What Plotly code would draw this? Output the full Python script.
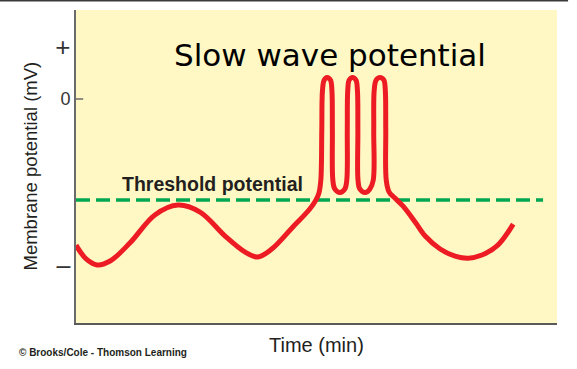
import plotly.graph_objects as go

# ---- data (time in min, membrane potential in mV, arbitrary scale) ----
time_min = [0.00, 0.21, 0.44, 0.71, 1.12, 1.64, 2.12, 2.58, 3.10, 3.51,
            3.78, 4.07, 4.49, 4.86, 4.99, 5.05, 5.09, 5.11, 5.125, 5.16,
            5.22, 5.29, 5.32, 5.33, 5.34, 5.38, 5.49, 5.59, 5.63, 5.64,
            5.65, 5.68, 5.75, 5.82, 5.85, 5.86, 5.863, 5.90, 6.01, 6.11,
            6.18, 6.19, 6.20, 6.24, 6.32, 6.40, 6.43, 6.44, 6.45, 6.51,
            6.63, 6.80, 7.05, 7.26, 7.57, 7.88, 8.15, 8.44, 8.77, 9.09]
potential_mv = [-56.2, -61.5, -63.8, -62.3, -55.4, -44.6, -40.8, -43.5, -52.7, -58.8,
                -60.8, -57.7, -49.6, -42.3, -38.8, -36.2, -31.2, -11.9, 3.5, 7.3,
                8.3, 7.3, 3.5, -11.9, -31.2, -34.6, -36.0, -34.6, -31.2, -11.9,
                3.5, 7.3, 8.3, 7.3, 3.5, -11.9, -31.2, -34.6, -36.0, -34.6,
                -31.2, -11.9, 3.5, 7.3, 8.3, 7.3, 3.5, -11.9, -31.2, -35.8,
                -38.1, -41.2, -47.3, -52.7, -57.7, -60.4, -61.2, -60.0, -56.2, -48.1]

threshold_mv = -38.8
threshold_time = [0.0, 9.71]

tick_values = [19, 0, -65]
tick_labels = ["<span style='font-size:26px'>+</span>", "0",
               "<span style='font-size:25px'>\u2013</span>"]

title_text = "Slow wave potential"
threshold_text = "Threshold potential"
x_title = "Time (min)"
y_title = "Membrane potential (mV)"
credit_text = "\u00a9 Brooks/Cole - Thomson Learning"

# ---- figure ----
fig = go.Figure()

fig.add_trace(go.Scatter(
    x=threshold_time, y=[threshold_mv] * len(threshold_time),
    mode="lines", line=dict(color="#00a651", width=3.5, dash="14px,6px"),
    hoverinfo="skip", showlegend=False))

fig.add_trace(go.Scatter(
    x=time_min, y=potential_mv, mode="lines",
    line=dict(color="#ed1c24", width=5, shape="spline", smoothing=1.0),
    showlegend=False))

fig.update_layout(
    width=577, height=369,
    margin=dict(l=76, r=20, t=10, b=46),
    plot_bgcolor="#fff8c4", paper_bgcolor="white",
    xaxis=dict(range=[0, 10], showgrid=False, zeroline=False, showticklabels=False,
               ticks="", showline=True, linecolor="#5a5a5a", linewidth=2),
    yaxis=dict(range=[-86.15, 34.23], showgrid=False, zeroline=False,
               tickvals=tick_values, ticktext=tick_labels, ticks="",
               ticklabelstandoff=0,
               tickfont=dict(family="Liberation Sans, Arial, sans-serif", size=18, color="#333333"),
               showline=True, linecolor="#6a6a6a", linewidth=2),
    font=dict(family="Liberation Sans, Arial, sans-serif", color="#231f20"),
)

# tick mark at 0
fig.add_shape(type="line", xref="paper", yref="y", x0=0, x1=0.015, y0=0, y1=0,
              line=dict(color="#6a6a6a", width=1.5))

# top border of page
fig.add_shape(type="line", xref="paper", yref="paper", x0=-0.158, x1=1.023,
              y0=1.0304, y1=1.0304, line=dict(color="#3a3a3a", width=2))

fig.add_annotation(text=title_text, xref="paper", yref="paper", x=0.529, y=0.856,
                   xanchor="center", yanchor="middle", showarrow=False,
                   font=dict(family="DejaVu Sans", size=31, color="#000000"))

fig.add_annotation(text="<b>" + threshold_text + "</b>", xref="x", yref="y",
                   x=2.83, y=-32.5, xanchor="center", yanchor="middle", showarrow=False,
                   font=dict(family="Liberation Sans, Arial, sans-serif", size=19.5, color="#231f20"))

fig.add_annotation(text=y_title, xref="paper", yref="paper", x=-0.0956, y=0.5,
                   xanchor="center", yanchor="middle", textangle=-90, showarrow=False,
                   font=dict(family="Liberation Sans, Arial, sans-serif", size=18.5, color="#231f20"))

fig.add_annotation(text=x_title, xref="paper", yref="paper", x=0.5, y=-0.0703,
                   xanchor="center", yanchor="middle", showarrow=False,
                   font=dict(family="Liberation Sans, Arial, sans-serif", size=20, color="#231f20"))

fig.add_annotation(text="<b>" + credit_text + "</b>", xref="paper", yref="paper",
                   x=-0.1227, y=-0.0927, xanchor="left", yanchor="middle", showarrow=False,
                   font=dict(family="Liberation Sans, Arial, sans-serif", size=10, color="#231f20"))

fig.write_html("out.html", config={"displayModeBar": False},
               post_script="document.body.style.margin='0';document.body.style.overflow='hidden';")
